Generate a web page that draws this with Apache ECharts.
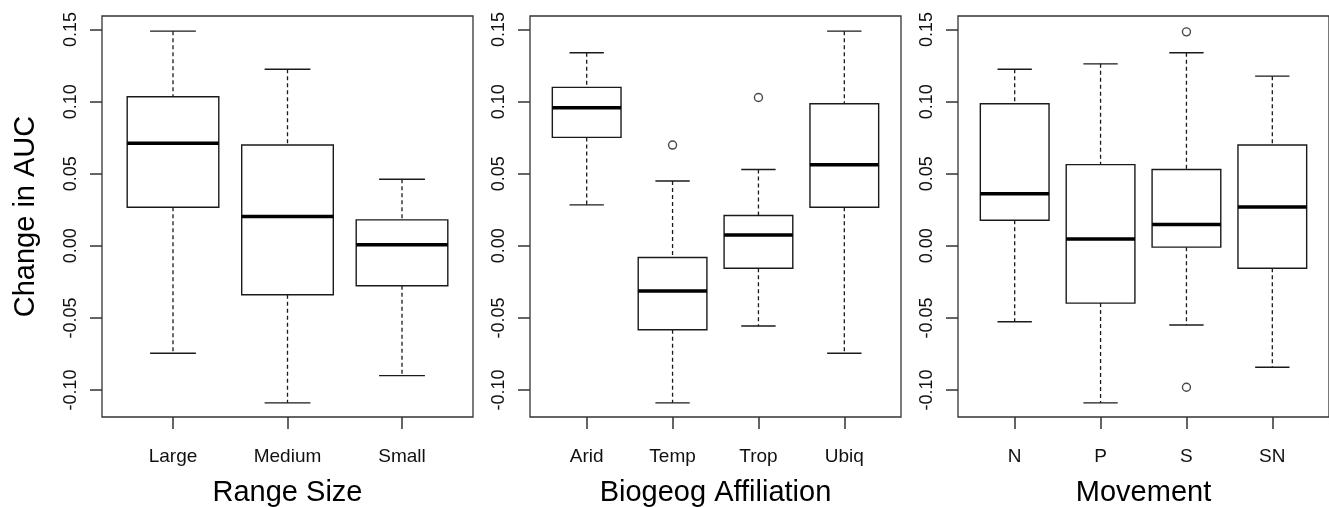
<!DOCTYPE html>
<html lang="en">
<head>
<meta charset="UTF-8">
<title>Change in AUC</title>
<script src="https://cdn.jsdelivr.net/npm/echarts@6/dist/echarts.min.js"></script>
<style>
  html, body { margin: 0; padding: 0; background: #fff; }
  #main { width: 1329px; height: 507px; }
</style>
</head>
<body>
<div id="main"></div>
<script>
// box stats per category: [lower whisker, Q1, median, Q3, upper whisker]
var rangeCats = ['Large', 'Medium', 'Small'];
var rangeStats = [
  [-0.0745, 0.0268, 0.0711, 0.1034, 0.1489],
  [-0.1089, -0.0339, 0.0203, 0.0699, 0.1225],
  [-0.0900, -0.0277, 0.0007, 0.0180, 0.0462]
];
var rangeOutliers = [];

var biogeoCats = ['Arid', 'Temp', 'Trop', 'Ubiq'];
var biogeoStats = [
  [0.0284, 0.0752, 0.0958, 0.1099, 0.1339],
  [-0.1089, -0.0582, -0.0314, -0.0081, 0.0450],
  [-0.0556, -0.0155, 0.0076, 0.0210, 0.0529],
  [-0.0745, 0.0268, 0.0563, 0.0985, 0.1489]
];
var biogeoOutliers = [[2, 0.0699], [3, 0.1029]]; // [category no, value]

var moveCats = ['N', 'P', 'S', 'SN'];
var moveStats = [
  [-0.0526, 0.0178, 0.0362, 0.0985, 0.1225],
  [-0.1089, -0.0397, 0.0048, 0.0563, 0.1262],
  [-0.0549, -0.0009, 0.0148, 0.0529, 0.1339],
  [-0.0842, -0.0155, 0.0270, 0.0699, 0.1177]
];
var moveOutliers = [[3, 0.1484], [3, -0.0981]];

var yTicks = [-0.10, -0.05, 0.00, 0.05, 0.10, 0.15];

var font = '"Liberation Sans", Arial, Helvetica, sans-serif';
var ink = '#1a1a1a';

var panels = [
  { title: 'Range Size', cats: rangeCats, stats: rangeStats, out: rangeOutliers, left: 102 },
  { title: 'Biogeog Affiliation', cats: biogeoCats, stats: biogeoStats, out: biogeoOutliers, left: 530 },
  { title: 'Movement', cats: moveCats, stats: moveStats, out: moveOutliers, left: 958 }
];

function renderBox(params, api) {
  var x = api.value(0);
  var half = api.size([0.8, 0])[0] / 2;
  var cap = api.size([0.4, 0])[0] / 2;
  var lo = api.coord([x, api.value(1)]);
  var q1 = api.coord([x, api.value(2)]);
  var md = api.coord([x, api.value(3)]);
  var q3 = api.coord([x, api.value(4)]);
  var hi = api.coord([x, api.value(5)]);
  var cx = lo[0];
  var dash = { stroke: ink, lineWidth: 1.3, lineDash: [4, 3] };
  var solid = { stroke: ink, lineWidth: 1.4 };
  return {
    type: 'group',
    children: [
      { type: 'line', shape: { x1: cx, y1: hi[1], x2: cx, y2: q3[1] }, style: dash },
      { type: 'line', shape: { x1: cx, y1: q1[1], x2: cx, y2: lo[1] }, style: dash },
      { type: 'line', shape: { x1: cx - cap, y1: hi[1], x2: cx + cap, y2: hi[1] }, style: solid },
      { type: 'line', shape: { x1: cx - cap, y1: lo[1], x2: cx + cap, y2: lo[1] }, style: solid },
      { type: 'rect', shape: { x: cx - half, y: q3[1], width: 2 * half, height: q1[1] - q3[1] },
        style: { fill: '#fff', stroke: ink, lineWidth: 1.4 } },
      { type: 'line', shape: { x1: cx - half, y1: md[1], x2: cx + half, y2: md[1] },
        style: { stroke: '#000', lineWidth: 3.5 } }
    ]
  };
}

var grids = [], xAxes = [], yAxes = [], series = [];

panels.forEach(function (p, i) {
  var n = p.cats.length;
  var pos = p.cats.map(function (c, j) { return j + 1; });

  grids.push({
    left: p.left, top: 16, width: 371, height: 401,
    show: true, borderColor: '#333', borderWidth: 1.3,
    containLabel: false, outerBoundsMode: 'none'
  });

  xAxes.push({
    gridIndex: i, type: 'value', position: 'bottom',
    min: 0.5 - 0.04 * n, max: n + 0.5 + 0.04 * n,
    axisLine: { show: false, onZero: false },
    splitLine: { show: false },
    axisTick: { show: true, length: 12, customValues: pos, lineStyle: { color: '#333', width: 1.5 } },
    axisLabel: {
      customValues: pos,
      formatter: function (v) { return p.cats[Math.round(v) - 1]; },
      margin: 30, fontSize: 19, color: '#111', fontFamily: font
    },
    name: p.title, nameLocation: 'middle', nameGap: 61,
    nameTextStyle: { fontSize: 29, color: '#000', fontFamily: font }
  });

  var ya = {
    gridIndex: i, type: 'value', position: 'left',
    min: -0.1187, max: 0.1594,
    axisLine: { show: false, onZero: false },
    splitLine: { show: false },
    axisTick: { show: true, length: 12, customValues: yTicks, lineStyle: { color: '#333', width: 1.5 } },
    axisLabel: {
      customValues: yTicks, rotate: 90, margin: 22,
      formatter: function (v) { return v.toFixed(2); },
      fontSize: 18, color: '#111', fontFamily: font
    }
  };
  if (i === 0) {
    ya.name = 'Change in AUC';
    ya.nameLocation = 'middle';
    ya.nameGap = 62;
    ya.nameTextStyle = { fontSize: 29, color: '#000', fontFamily: font };
  }
  yAxes.push(ya);

  series.push({
    type: 'custom', xAxisIndex: i, yAxisIndex: i,
    renderItem: renderBox,
    encode: { x: 0, y: [1, 2, 3, 4, 5] },
    data: p.stats.map(function (s, j) { return [j + 1].concat(s); })
  });

  series.push({
    type: 'scatter', xAxisIndex: i, yAxisIndex: i,
    symbol: 'circle', symbolSize: 8,
    itemStyle: { color: '#fff', borderColor: ink, borderWidth: 1.4 },
    data: p.out,
    z: 5
  });
});

var myChart = echarts.init(document.getElementById('main'));
myChart.setOption({
  animation: false,
  backgroundColor: '#fff',
  grid: grids,
  xAxis: xAxes,
  yAxis: yAxes,
  series: series
});
</script>
</body>
</html>
